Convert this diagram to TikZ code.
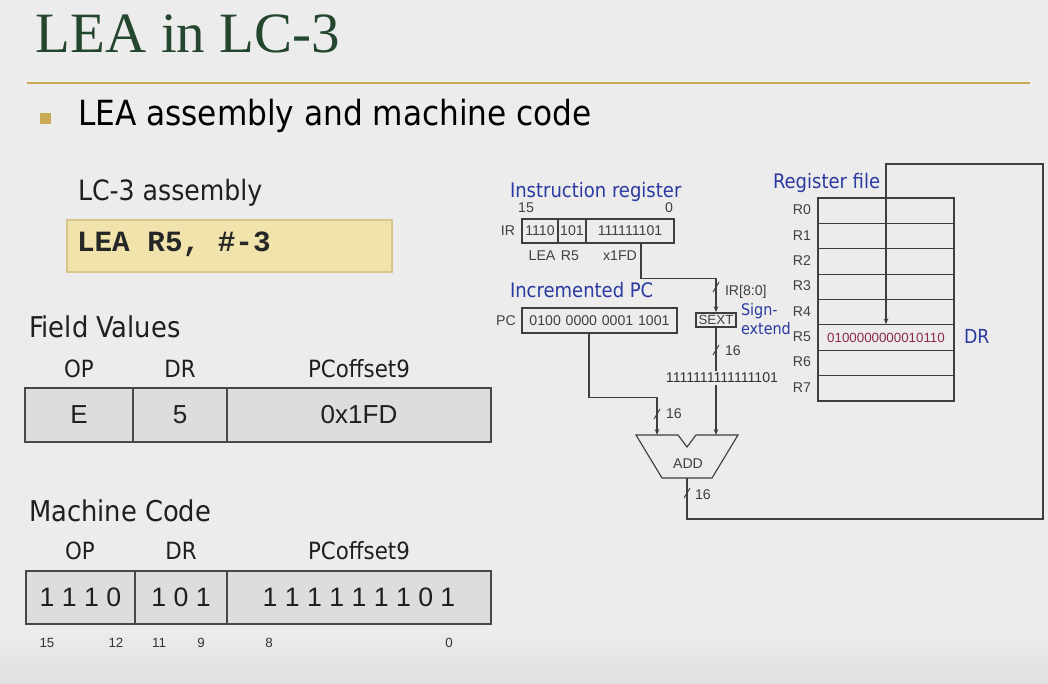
\documentclass[tikz,border=0pt]{standalone}
\usepackage{fontspec}
\setmainfont{Liberation Sans}
\newfontfamily\serifface{Liberation Serif}
\newfontfamily\condface{DejaVu Sans Condensed}
\newfontfamily\codeface{Liberation Mono}
\usetikzlibrary{arrows.meta}

\definecolor{bg}{RGB}{236,236,236}
\definecolor{bgdark}{RGB}{224,224,224}
\definecolor{titlegreen}{RGB}{36,70,46}
\definecolor{gold}{RGB}{202,170,84}
\definecolor{asmfill}{RGB}{240,227,172}
\definecolor{asmline}{RGB}{214,198,140}
\definecolor{cellfill}{RGB}{221,221,221}
\definecolor{cellline}{RGB}{72,72,72}
\definecolor{diagblue}{RGB}{42,58,160}
\definecolor{wirecol}{RGB}{62,62,62}
\definecolor{regval}{RGB}{140,40,70}

\newcommand\fsz[1]{\fontsize{#1}{#1}\selectfont}

\begin{document}
\begin{tikzpicture}[x=0.75pt,y=-0.75pt,
  txt/.style={inner sep=0pt, outer sep=0pt},
  condtxt/.style={txt, font=\condface\fsz{21.5pt}, text=black!88},
  headtxt/.style={txt, font=\condface\fsz{17.8pt}, text=black!88},
  bluetxt/.style={txt, font=\condface\fsz{15pt}, text=diagblue},
  smalltxt/.style={txt, font=\fsz{10.6pt}, text=black!75},
  valcell/.style={draw=cellline, fill=cellfill, line width=1.1pt, inner sep=0pt,
                  font=\fsz{19.5pt}, text=black!88},
  bitcell/.style={draw=wirecol, fill=bg, line width=0.8pt, inner sep=0pt,
                  minimum height=18pt, font=\fsz{10.6pt}, text=black!75},
  regcell/.style={draw=wirecol, fill=bg, line width=0.8pt, inner sep=0pt,
                  minimum width=102pt, minimum height=19.03pt, font=\fsz{10pt}},
  wire/.style={draw=wirecol, line width=0.85pt},
  tip/.style={-{Stealth[length=4.5pt,width=3.4pt]}},
  slashmark/.style={draw=wirecol, line width=0.7pt}
]
\useasboundingbox (0,0) rectangle (1048,684);
\fill[bg] (0,0) rectangle (1048,684);
\shade[top color=bg, bottom color=bgdark] (0,630) rectangle (1048,684);

% ---- title and heading rule ----
\node[txt, anchor=base west, font=\serifface\fsz{42.75pt}, text=titlegreen] (title) at (36,53) {LEA in LC-3};
\draw[gold, line width=1.6pt] (27,83) -- (1030,83);
\fill[gold] (40,113) rectangle (51,124);
\node[txt, anchor=base west, font=\condface\fsz{26pt}, text=black] (bullet) at (78,126) {LEA assembly and machine code};

% ---- assembly ----
\node[condtxt, anchor=base west, font=\condface\fsz{21pt}] (asmhead) at (78,201) {LC-3 assembly};
\node[draw=asmline, fill=asmfill, line width=0.8pt, minimum width=243.75pt, minimum height=39pt, inner sep=0pt] (asmbox) at (229.5,246) {};
\node[txt, anchor=base west, font=\codeface\bfseries\fsz{22pt}, text=black!85] (asmcode) at (77,252) {LEA R5, \#-3};

% ---- field values ----
\node[condtxt, anchor=base west] (fvhead) at (29,337) {Field Values};
\node[headtxt, anchor=base] (fvop) at (79,377) {OP};
\node[headtxt, anchor=base] (fvdr) at (180,377) {DR};
\node[headtxt, anchor=base] (fvoff) at (359,377) {PCoffset9};
\node[valcell, minimum width=81pt, minimum height=40.5pt] (fvE) at (79,415) {E};
\node[valcell, minimum width=70.5pt, minimum height=40.5pt] (fv5) at (180,415) {5};
\node[valcell, minimum width=198pt, minimum height=40.5pt] (fvx) at (359,415) {0x1FD};

% ---- machine code ----
\node[condtxt, anchor=base west] (mchead) at (29,521) {Machine Code};
\node[headtxt, anchor=base] (mcop) at (80,559) {OP};
\node[headtxt, anchor=base] (mcdr) at (181,559) {DR};
\node[headtxt, anchor=base] (mcoff) at (359,559) {PCoffset9};
\node[valcell, minimum width=81.75pt, minimum height=39.75pt, font=\fsz{20pt}] (mcA) at (80.5,597.5) {1 1 1 0};
\node[valcell, minimum width=69pt, minimum height=39.75pt, font=\fsz{20pt}] (mcB) at (181,597.5) {1 0 1};
\node[valcell, minimum width=198pt, minimum height=39.75pt, font=\fsz{20pt}] (mcC) at (359,597.5) {1 1 1 1 1 1 1 0 1};
\foreach \bx/\bt in {47/15, 116/12, 159/11, 201/9, 269/8, 449/0}
  \node[txt, anchor=base, font=\fsz{10pt}, text=black!80] (bit\bt) at (\bx,647) {\bt};

% ---- instruction register ----
\node[bluetxt, anchor=base west] (irhead) at (510,198) {Instruction register};
\node[smalltxt, anchor=base] (ir15) at (526,213) {15};
\node[smalltxt, anchor=base] (ir0) at (669,213) {0};
\node[smalltxt, anchor=base] (irlab) at (508,235) {IR};
\node[bitcell, minimum width=27pt] (irop) at (540,231) {1110};
\node[bitcell, minimum width=21pt] (irdr) at (572,231) {101};
\node[bitcell, minimum width=66pt] (iroff) at (630,231) {111111101};
\node[smalltxt, anchor=base] (irlea) at (542,260) {LEA};
\node[smalltxt, anchor=base] (irr5) at (570,260) {R5};
\node[smalltxt, anchor=base] (irx) at (620,260) {x1FD};

% ---- incremented PC ----
\node[bluetxt, anchor=base west] (pchead) at (510,297) {Incremented PC};
\node[smalltxt, anchor=base] (pclab) at (506,325) {PC};
\node[bitcell, minimum width=116.25pt, minimum height=18.75pt] (pc) at (599.5,320.5)
  {0100\hspace{3.6pt}0000\hspace{3.6pt}0001\hspace{3.6pt}1001};

% ---- sign extension ----
\node[bitcell, minimum width=30pt, minimum height=10.5pt, line width=1.1pt, font=\fsz{10pt}] (sext) at (716,320) {SEXT};
\node[txt, anchor=base west, font=\condface\fsz{12pt}, text=diagblue] (sign1) at (741,315) {Sign-};
\node[txt, anchor=base west, font=\condface\fsz{12pt}, text=diagblue] (sign2) at (741,334) {extend};

% ---- adder ----
\coordinate (addL) at (657,435);
\coordinate (addR) at (716,435);
\coordinate (addOut) at (687,478);
\draw[wirecol, line width=0.85pt, fill=bg] (636,435) -- (678,435) -- (687,447) -- (696,435) -- (738,435)
  -- (712,478) -- (662,478) -- cycle;
\node[smalltxt, anchor=base] (addtxt) at (688,468) {ADD};

% ---- register file ----
\node[bluetxt, anchor=base west] (rfhead) at (773,189) {Register file};
\foreach \i in {0,...,7} {
  \node[regcell] (r\i) at (886,{210.69+25.375*\i}) {};
  \node[smalltxt, anchor=base] (rl\i) at (802,{214.69+25.375*\i}) {R\i};
}
\node[txt, font=\fsz{10pt}, text=regval] (r5val) at (r5) {0100000000010110};
\node[txt, anchor=base west, font=\condface\fsz{14.5pt}, text=diagblue] (drlab) at (964,343) {DR};

% ---- data paths ----
\draw[wire, tip] ([xshift=8.25pt]iroff.south) -- ++(0,35) -| (sext.north);
\draw[wire, tip] ([xshift=-7.875pt]pc.south) -- ++(0,64) -| (addL);
\draw[wire, tip] (sext.south) -- (addR);
\coordinate (fbC) at (1043,164);
\draw[wire, tip] (addOut) -- ++(0,41) -| (fbC) -| (r5.north);
\node[txt, fill=bg, inner sep=1.2pt, font=\fsz{10.6pt}, text=black!80] (sextval) at (722,378) {1111111111111101};

% bus width marks
\draw[slashmark] (713,292) -- (719,282);
\node[smalltxt, anchor=base west] (w1) at (725,295) {IR[8:0]};
\draw[slashmark] (654,419) -- (660,409);
\node[smalltxt, anchor=base west] (w2) at (666,418) {16};
\draw[slashmark] (713,355) -- (719,345);
\node[smalltxt, anchor=base west] (w3) at (725,355) {16};
\draw[slashmark] (684,498) -- (690,488);
\node[smalltxt, anchor=base west] (w4) at (695,499) {16};
\end{tikzpicture}
\end{document}
